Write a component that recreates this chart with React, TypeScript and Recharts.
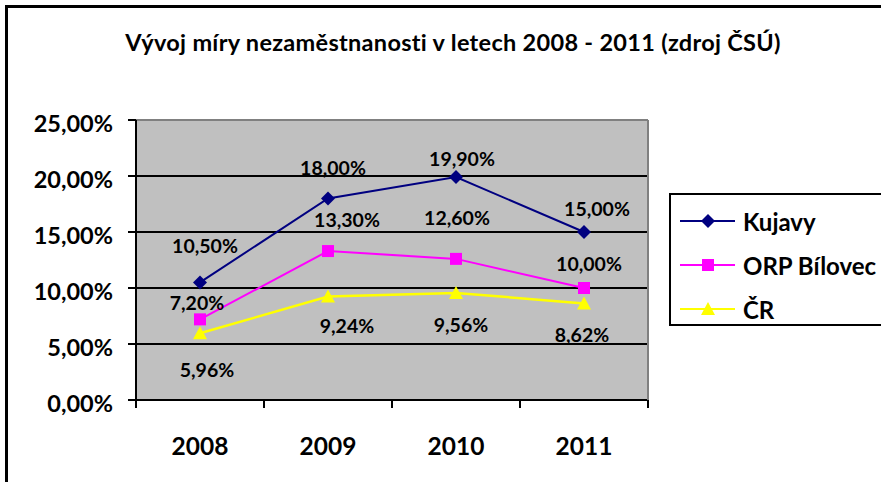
import React from 'react';
import { LineChart, Line, XAxis, YAxis, CartesianGrid, Legend, ReferenceLine } from 'recharts';

const years = ['2008', '2009', '2010', '2011'];
const kujavy = [10.5, 18.0, 19.9, 15.0];
const orpBilovec = [7.2, 13.3, 12.6, 10.0];
const cesko = [5.96, 9.24, 9.56, 8.62];
const yTicks = [0, 5, 10, 15, 20, 25];

// labels were hand-placed in the original, so keep per point shifts
const labelShift: Record<string, { dx: number[]; dy: number[] }> = {
  kujavy: { dx: [5, 5, 6, 13], dy: [-37, -31, -19, -24] },
  orp: { dx: [-3, 19, 1, 5], dy: [-17, -32, -41, -25] },
  cr: { dx: [7, 19, 5, -2], dy: [36, 29, 32, 31] },
};

const data = years.map((year, i) => ({ year, kujavy: kujavy[i], orp: orpBilovec[i], cr: cesko[i] }));

const FONT = 'Lato, "DejaVu Sans", sans-serif';
const PLOT_LEFT = 136;
const PLOT_TOP = 120;
const PLOT_H = 280;
const PLOT_W = 512;
const BAND = PLOT_W / years.length;
const AXIS_Y = PLOT_TOP + PLOT_H;

const fmt = (v: number) => v.toFixed(2).replace('.', ',') + '%';

const shapePath = (kind: string, cx: number, cy: number) => {
  if (kind === 'diamond') return `M${cx},${cy - 7}L${cx + 7},${cy}L${cx},${cy + 7}L${cx - 7},${cy}Z`;
  if (kind === 'square') return `M${cx - 6},${cy - 6}h12v12h-12Z`;
  return `M${cx},${cy - 7}L${cx + 7},${cy + 6}L${cx - 7},${cy + 6}Z`;
};

const series = [
  { key: 'kujavy', name: 'Kujavy', color: '#000080', shape: 'diamond', width: 2 },
  { key: 'orp', name: 'ORP Bílovec', color: '#FF00FF', shape: 'square', width: 2 },
  { key: 'cr', name: 'ČR', color: '#FFFF00', shape: 'triangle', width: 2.5 },
];

const YearTick = (p: any) => {
  const { x, payload, index } = p;
  return (
    <g>
      <line x1={x - BAND / 2} x2={x - BAND / 2} y1={AXIS_Y} y2={AXIS_Y + 8} stroke="#000" strokeWidth={2} />
      {index === years.length - 1 && (
        <line x1={x + BAND / 2} x2={x + BAND / 2} y1={AXIS_Y} y2={AXIS_Y + 8} stroke="#000" strokeWidth={2} />
      )}
      <text x={x} y={AXIS_Y + 45} textAnchor="middle" dominantBaseline="central"
        fontFamily={FONT} fontWeight="bold" fontSize={24.5} fill="#000">
        {payload.value}
      </text>
    </g>
  );
};

const LegendBox = (props: any) => {
  const items = props.payload || [];
  return (
    <div style={{ border: '2px solid #000', background: '#fff', width: 240, height: 133, boxSizing: 'border-box', paddingTop: 4 }}>
      {items.map((it: any) => {
        const s = series.find((q) => q.key === it.dataKey)!;
        return (
          <div key={s.key} style={{ display: 'flex', alignItems: 'center', height: 44 }}>
            <svg width={72} height={20} style={{ flex: 'none' }}>
              <line x1={9} x2={64} y1={10} y2={10} stroke={s.color} strokeWidth={2} />
              <path d={shapePath(s.shape, 37, 10)} fill={s.color} />
            </svg>
            <span style={{ fontFamily: FONT, fontWeight: 'bold', fontSize: 24, color: '#000', whiteSpace: 'nowrap' }}>
              {s.name}
            </span>
          </div>
        );
      })}
    </div>
  );
};

export default function App() {
  return (
    <div style={{ position: 'absolute', left: 0, top: 0, width: 881, height: 482, overflow: 'hidden', background: '#fff' }}>
      <div style={{ position: 'absolute', left: 5, top: 5, width: 2000, height: 2000, borderLeft: '3px solid #000', borderTop: '3px solid #000' }} />
      <div style={{ position: 'absolute', left: 0, top: 28, width: 906, textAlign: 'center', fontFamily: FONT, fontWeight: 'bold', fontSize: 23.5, letterSpacing: 0.3, color: '#000' }}>
        Vývoj míry nezaměstnanosti v letech 2008 - 2011 (zdroj ČSÚ)
      </div>
      <div style={{ position: 'absolute', left: 0, top: 0 }}>
        <LineChart width={881} height={482} data={data} margin={{ top: PLOT_TOP, right: 233, left: 0, bottom: 22 }}>
          <CartesianGrid fill="#C0C0C0" vertical={false} stroke="#000" strokeWidth={2} horizontalValues={[5, 10, 15, 20]} />
          <ReferenceLine y={25} stroke="#808080" strokeWidth={2} />
          <XAxis dataKey="year" type="category" height={60} padding={{ left: BAND / 2, right: BAND / 2 }}
            axisLine={{ stroke: '#000', strokeWidth: 2 }} tickLine={false} tick={<YearTick />} interval={0} />
          <YAxis domain={[0, 25]} ticks={yTicks} tickFormatter={fmt} width={136} tickSize={8} tickMargin={15}
            axisLine={{ stroke: '#000', strokeWidth: 2 }} tickLine={{ stroke: '#000', strokeWidth: 2 }}
            tick={{ fontSize: 23.5, fill: '#000', fontWeight: 'bold', fontFamily: FONT, dy: 4 }} />
          <Legend layout="vertical" align="center" verticalAlign="middle" content={<LegendBox />}
            wrapperStyle={{ left: 669, top: 193, width: 240 }} />
          {series.map((s) => (
            <Line key={s.key} dataKey={s.key} name={s.name} stroke={s.color} strokeWidth={s.width}
              isAnimationActive={false}
              dot={(p: any) => <path key={`${s.key}-${p.index}`} d={shapePath(s.shape, p.cx, p.cy)} fill={s.color} />}
              activeDot={false}
              label={(p: any) => (
                <text key={`${s.key}-l-${p.index}`} x={p.x + labelShift[s.key].dx[p.index]} y={p.y + labelShift[s.key].dy[p.index]}
                  textAnchor="middle" dominantBaseline="central" fontFamily={FONT} fontWeight="bold" fontSize={19.5} fill="#000">
                  {fmt(p.value)}
                </text>
              )} />
          ))}
        </LineChart>
      </div>
      {/* plot area right edge, gray like the top one */}
      <div style={{ position: 'absolute', left: PLOT_LEFT + PLOT_W - 1, top: PLOT_TOP, width: 2, height: PLOT_H, background: '#808080' }} />
    </div>
  );
}
